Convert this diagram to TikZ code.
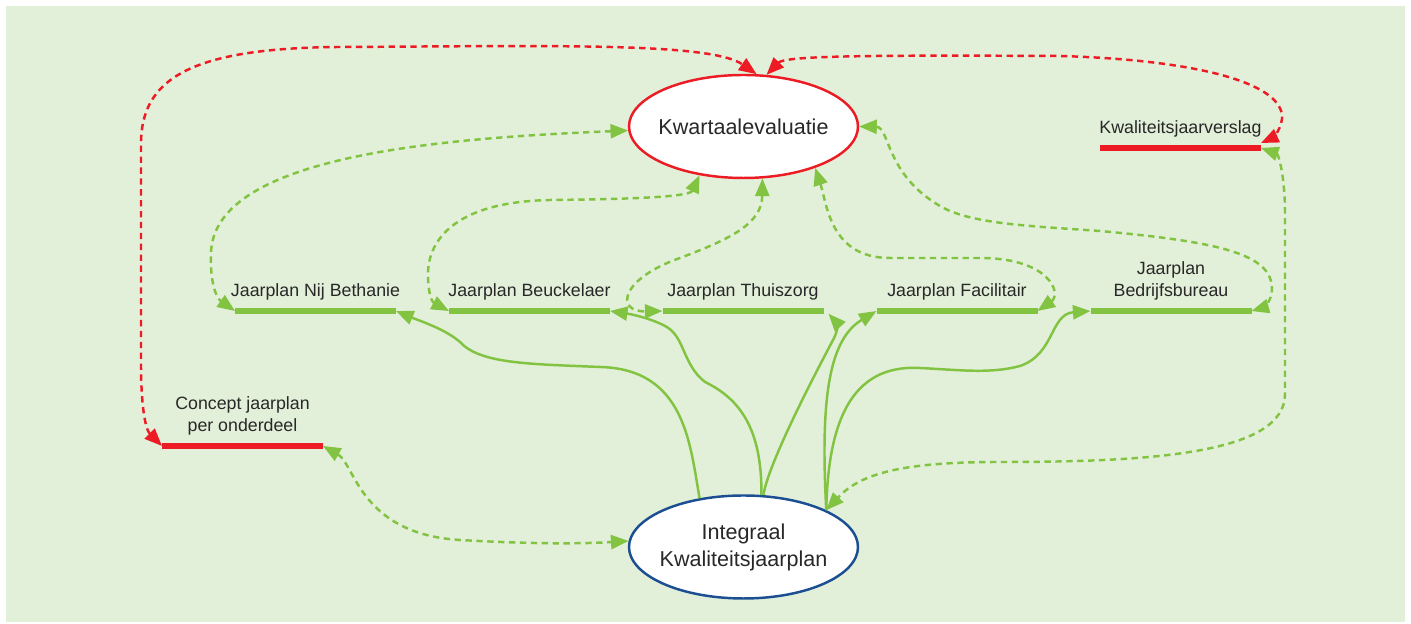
\documentclass[tikz,border=0pt]{standalone}
\usepackage{fontspec}
\setmainfont{Liberation Sans}
\usetikzlibrary{positioning,shapes.geometric,arrows.meta}

\definecolor{bggreen}{RGB}{226,239,217}
\definecolor{plangreen}{RGB}{130,195,65}
\definecolor{evalred}{RGB}{237,28,36}
\definecolor{intblue}{RGB}{28,78,146}
\definecolor{labelgray}{RGB}{40,40,40}

\tikzset{>={Triangle[length=5pt,width=4pt]}}

\begin{document}
\begin{tikzpicture}[
    oval/.style={ellipse, minimum width=2.29cm, minimum height=1.03cm,
                 inner xsep=-0.045cm, inner ysep=0pt,
                 fill=white, line width=0.7pt, text=labelgray, align=center,
                 font=\fontsize{6.13}{7.7}\selectfont},
    greenbar/.style={minimum width=1.61cm, minimum height=0.055cm, inner sep=0pt,
                     outer sep=0pt, fill=plangreen},
    redbar/.style={greenbar, fill=evalred},
    barlabel/.style={inner sep=0pt, text=labelgray, align=center,
                     font=\fontsize{5.06}{6.3}\selectfont},
    evalline/.style={plangreen, line width=0.7pt, dash pattern=on 1.8pt off 1.3pt, <->},
    reportline/.style={evalred, line width=0.7pt, dash pattern=on 1.8pt off 1.3pt, <->},
    planline/.style={plangreen, line width=0.7pt, ->}
]

    \useasboundingbox (0,0) rectangle (14.11,6.24);
    \fill[bggreen] (0.06,0.02) rectangle (14.05,6.18);

    \node[oval, draw=evalred] (kwart) at (7.435,4.975) {Kwartaalevaluatie};
    \node[oval, draw=intblue] (integ) at (7.435,0.77) {Integraal\\Kwaliteitsjaarplan};

    \node[greenbar] (nb)  at (3.155,3.13) {};
    \node[greenbar] (beu) at (5.295,3.13) {};
    \node[greenbar] (thu) at (7.43,3.13) {};
    \node[greenbar] (fac) at (9.57,3.13) {};
    \node[greenbar] (bed) at (11.71,3.13) {};
    \node[redbar] (verslag) at (11.805,4.76) {};
    \node[redbar] (concept) at (2.425,1.78) {};

    \node[barlabel, above=0.075cm of nb]  (nb-label)  {Jaarplan Nij Bethanie};
    \node[barlabel, above=0.075cm of beu] (beu-label) {Jaarplan Beuckelaer};
    \node[barlabel, above=0.075cm of thu] (thu-label) {Jaarplan Thuiszorg};
    \node[barlabel, above=0.075cm of fac] (fac-label) {Jaarplan Facilitair};
    \node[barlabel, above=0.075cm of bed] (bed-label) {Jaarplan\\Bedrijfsbureau};
    \node[barlabel, above=0.075cm of verslag] (verslag-label) {Kwaliteitsjaarverslag};
    \node[barlabel, above=0.075cm of concept] (concept-label) {Concept jaarplan\\per onderdeel};

    \draw[reportline] (concept.west) .. controls (1.45,1.95) and (1.41,2.2) .. (1.41,2.6)
                      -- (1.41,4.8) .. controls (1.41,5.45) and (1.9,5.76) .. (3.4,5.77)
                      .. controls (5.5,5.78) and (7.1,5.82) .. (kwart.76);
    \draw[reportline] (kwart.66) .. controls (7.85,5.68) and (8.6,5.69) .. (10.6,5.68)
                      .. controls (12.0,5.64) and (12.85,5.4) .. (12.82,5.05)
                      .. controls (12.8,4.92) and (12.72,4.86) .. ([yshift=0.05cm]verslag.east);

    \draw[evalline] (kwart.182) .. controls (4.5,4.86) and (2.12,4.7) .. (2.11,3.7)
                    .. controls (2.10,3.45) and (2.15,3.27) .. (nb.west);
    \draw[evalline] (kwart.228) .. controls (6.9,4.28) and (6.5,4.25) .. (5.5,4.24)
                    .. controls (4.5,4.22) and (4.28,3.8) .. (4.28,3.5)
                    .. controls (4.28,3.3) and (4.32,3.22) .. (beu.west);
    \draw[evalline] (kwart.290) .. controls (7.62,4.0) and (7.3,3.85) .. (6.8,3.66)
                    .. controls (6.2,3.45) and (6.15,3.12) .. (thu.west);
    \draw[evalline] (kwart.330) .. controls (8.27,4.2) and (8.3,3.66) .. (8.9,3.66) -- (9.8,3.66)
                    .. controls (10.5,3.66) and (10.62,3.3) .. (fac.east);
    \draw[evalline] (kwart.east) .. controls (8.9,4.97) and (8.85,4.5) .. (9.4,4.18)
                    .. controls (9.7,4.0) and (10.3,3.98) .. (11.0,3.93)
                    .. controls (12.2,3.82) and (12.72,3.7) .. (12.72,3.35)
                    .. controls (12.72,3.22) and (12.62,3.16) .. (bed.east);
    \draw[evalline] (verslag.east) .. controls (12.78,4.7) and (12.85,4.5) .. (12.85,4.1) -- (12.85,2.3)
                    .. controls (12.85,1.7) and (11.5,1.62) .. (10.0,1.62)
                    .. controls (9.0,1.62) and (8.6,1.5) .. (integ.24);
    \draw[evalline] (concept.east) .. controls (3.55,1.6) and (3.6,0.9) .. (4.6,0.84)
                    .. controls (5.3,0.8) and (5.8,0.8) .. (integ.177);

    \draw[planline] (integ.132) .. controls (6.9,1.8) and (6.85,2.55) .. (6.0,2.57)
                    .. controls (5.3,2.6) and (4.8,2.6) .. (4.6,2.82)
                    .. controls (4.45,2.95) and (4.2,3.03) .. (nb.east);
    \draw[planline] (integ.71) .. controls (7.62,1.95) and (7.4,2.25) .. (7.05,2.42)
                    .. controls (6.82,2.6) and (6.85,2.88) .. (6.65,2.98)
                    .. controls (6.5,3.06) and (6.3,3.1) .. (beu.east);
    \draw[planline] (integ.69) .. controls (7.68,1.6) and (8.15,2.5) .. (8.33,2.84)
                    .. controls (8.4,2.97) and (8.36,3.02) .. ([xshift=0.05cm]thu.south east);
    \draw[planline] (integ.24) .. controls (8.2,2.3) and (8.3,2.85) .. (fac.west);
    \draw[planline] (integ.24) .. controls (8.28,2.0) and (8.5,2.6) .. (9.2,2.56)
                    .. controls (9.6,2.54) and (9.9,2.5) .. (10.2,2.58)
                    .. controls (10.55,2.7) and (10.5,3.1) .. (bed.west);

\end{tikzpicture}
\end{document}
